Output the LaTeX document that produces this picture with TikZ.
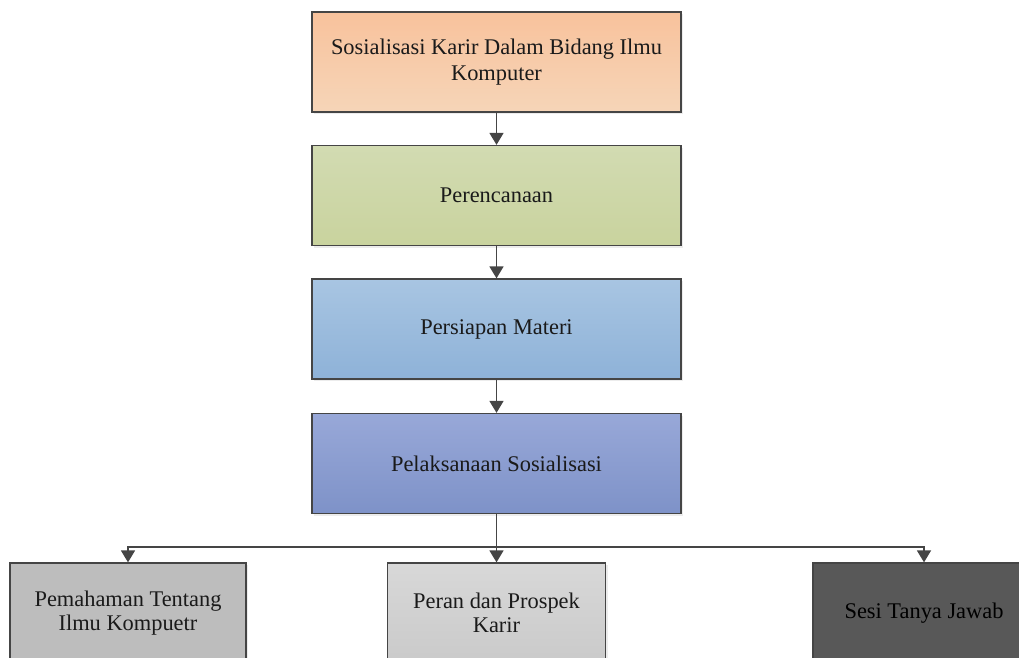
\documentclass[tikz,border=0pt]{standalone}
\usepackage{fontspec}
\setmainfont{Liberation Serif}
\usetikzlibrary{arrows.meta,shadows}
\definecolor{edge}{HTML}{454545}
\definecolor{txt}{HTML}{1A1A1A}
\definecolor{oT}{HTML}{F8C29C}\definecolor{oB}{HTML}{F6D5B8}
\definecolor{gT}{HTML}{D2DBB2}\definecolor{gB}{HTML}{C9D39E}
\definecolor{bT}{HTML}{A8C5E2}\definecolor{bB}{HTML}{8EB2D8}
\definecolor{pT}{HTML}{98A8D8}\definecolor{pB}{HTML}{7E92C8}
\definecolor{g1}{HTML}{BDBDBD}
\definecolor{g2T}{HTML}{D8D8D8}\definecolor{g2B}{HTML}{CACACA}
\definecolor{g3}{HTML}{585858}
\begin{document}
\begin{tikzpicture}[x=1pt,y=-1pt,
  box/.style={draw=edge, line width=1.3pt, minimum width=369pt, minimum height=100pt,
    align=center, text=txt, font=\fontsize{22.4}{26}\selectfont, inner sep=0pt,
    drop shadow={opacity=0.15, shadow xshift=2pt, shadow yshift=-2pt}},
  sub/.style={box, font=\fontsize{22.4}{23.5}\selectfont},
  arr/.style={draw=edge, line width=1.7pt, -{Triangle[width=14pt,length=12pt]}}]
\useasboundingbox (0,0) rectangle (1019,657);
\clip (0,0) rectangle (1019,657);
\node[box, top color=oT, bottom color=oB] (p1) at (496.5,62) {Sosialisasi Karir Dalam Bidang Ilmu\\Komputer};
\node[box, top color=gT, bottom color=gB] (p2) at (496.5,195.5) {Perencanaan};
\node[box, top color=bT, bottom color=bB] (p3) at (496.5,329) {Persiapan Materi};
\node[box, top color=pT, bottom color=pB] (p4) at (496.5,463.5) {Pelaksanaan Sosialisasi};
\node[sub, minimum width=236pt, fill=g1] (b1) at (128,613) {Pemahaman Tentang\\Ilmu Kompuetr};
\node[sub, minimum width=218pt, top color=g2T, bottom color=g2B] (b2) at (496.5,613) {Peran dan Prospek\\Karir};
\node[sub, minimum width=222pt, fill=g3, text=black] (b3) at (924,613) {Sesi Tanya Jawab};
\coordinate (fork) at (496.5,547);
\draw[arr] (p1) -- (p2);
\draw[arr] (p2) -- (p3);
\draw[arr] (p3) -- (p4);
\draw[arr] (p4) -- (b2);
\draw[arr] (fork) -| (b1.north);
\draw[arr] (fork) -| (b3.north);
\end{tikzpicture}
\end{document}
